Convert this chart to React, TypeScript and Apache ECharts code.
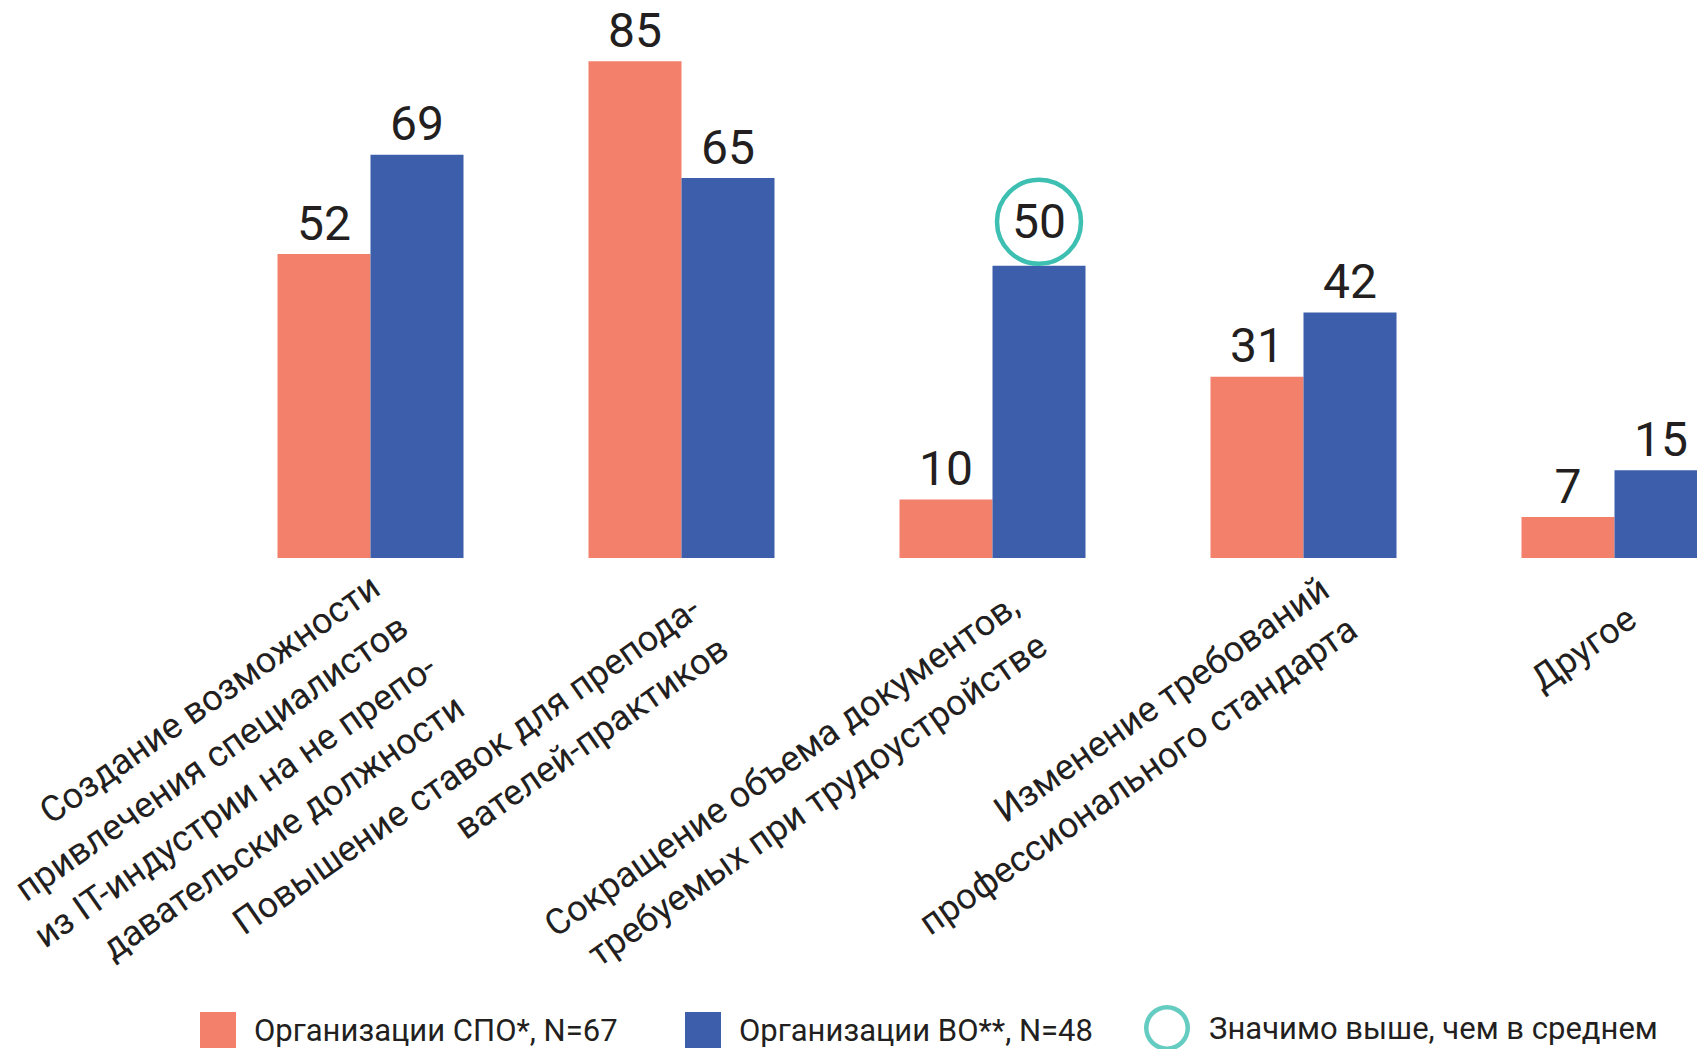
import React, { useEffect, useRef } from 'react';
import * as echarts from 'echarts';

const categories = [
  'Создание возможности\nпривлечения специалистов\nиз IT-индустрии на не препо-\nдавательские должности',
  'Повышение ставок для препода-\nвателей-практиков',
  'Сокращение объема документов,\nтребуемых при трудоустройстве',
  'Изменение требований\nпрофессионального стандарта',
  'Другое',
];
const spoName = 'Организации СПО*, N=67';
const voName = 'Организации ВО**, N=48';
const sigName = 'Значимо выше, чем в среднем';
const spoValues = [52, 85, 10, 31, 7];
const voValues = [69, 65, 50, 42, 15];
const spoSignificant = [false, false, false, false, false];
const voSignificant = [false, false, true, false, false];

// per-category label nudges (layout only): [shift down, shift along text] in px
const labelNudges = [
  [-24, -7],
  [-1, -12],
  [1, -4],
  [-13, 5],
  [9, -15],
];

const FONT = 'Roboto, "Noto Sans", sans-serif';
const TEXT = '#231f20';
const ORANGE = '#f3806a';
const BLUE = '#3d5eaa';
const TEAL = '#3dbfb2';
const RING_ICON =
  'path://M23,0 A23,23 0 1,1 23,46 A23,23 0 1,1 23,0 Z M23,4.5 A18.5,18.5 0 1,0 23,41.5 A18.5,18.5 0 1,0 23,4.5 Z';

const ringLabel = {
  width: 84,
  height: 84,
  lineHeight: 84,
  align: 'center',
  borderColor: TEAL,
  borderWidth: 4.5,
  borderRadius: 50,
  distance: 2,
};

function buildData(values: number[], flags: boolean[]) {
  return values.map((v, i) => (flags[i] ? { value: v, label: ringLabel } : v));
}

export default function App() {
  const ref = useRef<HTMLDivElement>(null);
  useEffect(() => {
    if (!ref.current) return;
    const chart = echarts.init(ref.current, undefined, { renderer: 'svg' });
    const valueLabel = {
      show: true,
      position: 'top',
      distance: 7,
      fontSize: 48,
      fontFamily: FONT,
      color: TEXT,
    };
    const legendText = { fontSize: 31, color: TEXT, fontFamily: FONT, padding: [0, 0, 8, 13] };
    const baseRight = -13;
    chart.setOption({
      animation: false,
      backgroundColor: '#ffffff',
      grid: {
        left: 215,
        top: 32,
        width: 1555,
        height: 526,
        containLabel: false,
        outerBoundsMode: 'none',
      },
      xAxis: {
        type: 'category',
        data: categories.map((c, i) => ({
          value: c,
          textStyle: {
            verticalAlign: 'top',
            align: 'right',
            padding: [labelNudges[i][0], baseRight - labelNudges[i][1], 0, 0],
          },
        })),
        axisLine: { show: false },
        axisTick: { show: false },
        axisLabel: {
          interval: 0,
          rotate: 35,
          margin: 28,
          verticalAlign: 'top',
          fontSize: 36,
          lineHeight: 49,
          color: TEXT,
          fontFamily: FONT,
          padding: [0, baseRight, 0, 0],
          hideOverlap: false,
        },
      },
      yAxis: {
        type: 'value',
        min: 0,
        max: 90,
        show: false,
        splitLine: { show: false },
      },
      legend: [
        {
          data: [{ name: spoName, icon: 'rect' }],
          left: 200,
          top: 1012,
          padding: 0,
          itemWidth: 36,
          itemHeight: 36,
          selectedMode: false,
          textStyle: legendText,
        },
        {
          data: [{ name: voName, icon: 'rect' }],
          left: 685,
          top: 1012,
          padding: 0,
          itemWidth: 36,
          itemHeight: 36,
          selectedMode: false,
          textStyle: legendText,
        },
        {
          data: [{ name: sigName, icon: RING_ICON }],
          left: 1144,
          top: 1005,
          padding: 0,
          itemWidth: 46,
          itemHeight: 46,
          selectedMode: false,
          textStyle: { ...legendText, padding: [0, 0, 8, 14] },
        },
      ],
      series: [
        {
          name: spoName,
          type: 'bar',
          data: buildData(spoValues, spoSignificant),
          barWidth: 93,
          barGap: '0%',
          itemStyle: { color: ORANGE },
          label: valueLabel,
        },
        {
          name: voName,
          type: 'bar',
          data: buildData(voValues, voSignificant),
          barWidth: 93,
          barGap: '0%',
          itemStyle: { color: BLUE },
          label: valueLabel,
        },
        {
          name: sigName,
          type: 'scatter',
          data: [],
          itemStyle: { color: TEAL, borderWidth: 0 },
        },
      ],
    });
    return () => chart.dispose();
  }, []);
  return (
    <div
      ref={ref}
      style={{ position: 'fixed', left: 0, top: 0, width: 1697, height: 1049, background: '#fff' }}
    />
  );
}
